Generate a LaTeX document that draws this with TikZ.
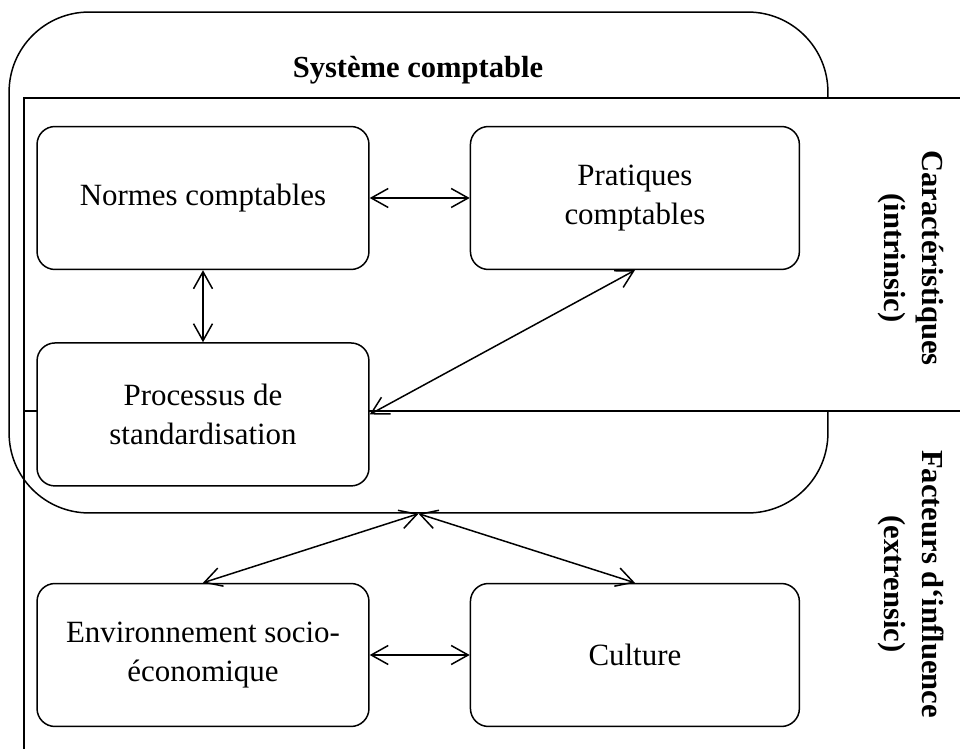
\documentclass[tikz,border=0pt]{standalone}
\usepackage{fontspec}
\setmainfont{Liberation Serif}
\usetikzlibrary{positioning}
\usetikzlibrary{arrows.meta}

\tikzset{
	boite/.style = {draw, fill=white, rectangle, rounded corners=0.36cm, minimum width=6.64cm, minimum height=2.86cm, align=center},
	fleche/.style = {{Straight Barb[length=0.34cm,width=0.38cm]}-{Straight Barb[length=0.34cm,width=0.38cm]}},
	titre/.style = {font=\fontsize{17.4}{21.6}\selectfont\bfseries, align=center},
}

\begin{document}
\begin{tikzpicture}[x=0.02cm, y=-0.02cm, line width=0.85pt, font=\fontsize{17.6}{21.8}\selectfont]
		\clip (0,0) rectangle (960,749);

		% zone des facteurs (extrensic)
		\draw (24,770) -- (24,411) -- (990,411);

		% systeme comptable
		\node[draw, rectangle, rounded corners=1.6cm, minimum width=16.38cm, minimum height=10.02cm] at (418.5,262.5) (sys) {};
		\node[titre] at (418,70) (systitre) {Système comptable};

		% zone des caracteristiques (intrinsic)
		\draw[fill=white] (990,98) -- (24,98) -- (24,411) -- (990,411);

		\node[boite] at (203,198) (normes) {Normes comptables};
		\node[boite, minimum width=6.58cm, right = 2cm of normes] (pratiques) {Pratiques\\comptables};
		\node[boite, below = 1.44cm of normes] (processus) {Processus de\\standardisation};

		\node[boite] at (203,655) (env) {Environnement socio-\\économique};
		\node[boite, minimum width=6.58cm, right = 2cm of env] (culture) {Culture};

		\node[titre, rotate=-90] at (911,258) (carac) {Caractéristiques\\(intrinsic)};
		\node[titre, rotate=-90] at (911,584) (facteurs) {Facteurs d‘influence\\(extrensic)};

		\draw[fleche] (normes) -- (pratiques);
		\draw[fleche] (normes) -- (processus);
		\draw[fleche] (pratiques.south) -- (processus.east);
		\draw[fleche] (sys.south) -- (env.north);
		\draw[fleche] (sys.south) -- (culture.north);
		\draw[fleche] (env) -- (culture);
	\end{tikzpicture}
\end{document}
